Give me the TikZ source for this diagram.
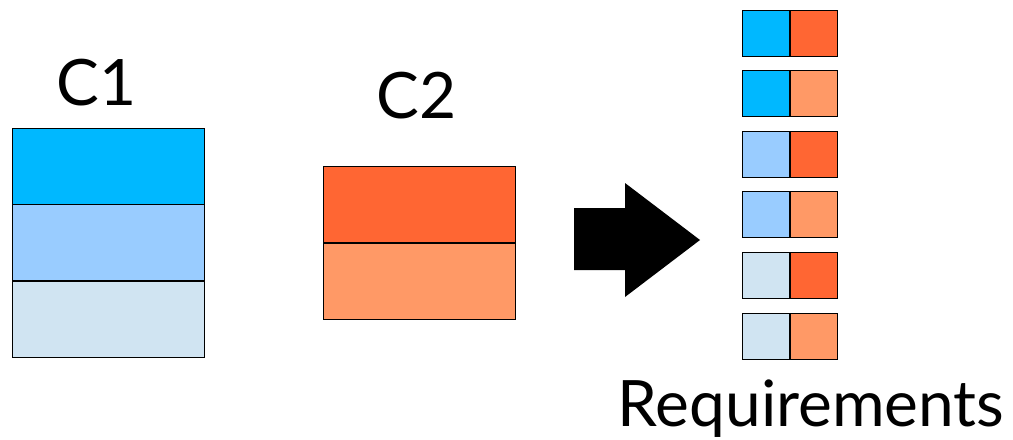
\documentclass[tikz,border=0pt]{standalone}
\usepackage{fontspec}
\setmainfont{Lato}
\usetikzlibrary{positioning}
\definecolor{blueA}{HTML}{00B8FF}
\definecolor{blueB}{HTML}{99CCFF}
\definecolor{blueC}{HTML}{D0E4F2}
\definecolor{orangeA}{HTML}{FF6633}
\definecolor{orangeB}{HTML}{FF9966}

\begin{document}
\begin{tikzpicture}[x=0.75pt,y=-0.75pt,
    bigcell/.style={draw=black,line width=0.6pt,inner sep=0pt,minimum width=144pt,minimum height=57pt},
    smallcell/.style={draw=black,line width=0.6pt,inner sep=0pt,minimum width=35.25pt,minimum height=34.5pt},
    biglabel/.style={font=\fontsize{48}{48}\selectfont,inner sep=0pt,anchor=base}]
        \useasboundingbox (0,0) rectangle (1013,439);
        %C1
            \node[bigcell,fill=blueA] (c1a) at (108,166) {};
            \node[bigcell,fill=blueB,below=0pt of c1a] (c1b) {};
            \node[bigcell,fill=blueC,below=0pt of c1b] (c1c) {};
            \node[biglabel] (c1) at (96.5,105) {C1};
        %C2
            \node[bigcell,fill=orangeA] (c2a) at (419,204.5) {};
            \node[bigcell,fill=orangeB,below=0pt of c2a] (c2b) {};
            \node[biglabel] (c2) at (416.5,118) {C2};
        %箭头
            \fill[black] (574,208) -- (625,208) -- (625,183) -- (700,240) -- (625,297) -- (625,270) -- (574,270) -- cycle;
        %Requirements
            \node[smallcell,fill=blueA] (r1a) at (766,33) {};
            \node[smallcell,fill=orangeA,right=0pt of r1a] (r1b) {};
            \node[smallcell,fill=blueA] (r2a) at (766,93.5) {};
            \node[smallcell,fill=orangeB,right=0pt of r2a] (r2b) {};
            \node[smallcell,fill=blueB] (r3a) at (766,154) {};
            \node[smallcell,fill=orangeA,right=0pt of r3a] (r3b) {};
            \node[smallcell,fill=blueB] (r4a) at (766,214.5) {};
            \node[smallcell,fill=orangeB,right=0pt of r4a] (r4b) {};
            \node[smallcell,fill=blueC] (r5a) at (766,275) {};
            \node[smallcell,fill=orangeA,right=0pt of r5a] (r5b) {};
            \node[smallcell,fill=blueC] (r6a) at (766,336) {};
            \node[smallcell,fill=orangeB,right=0pt of r6a] (r6b) {};
            \node[biglabel] (req) at (811,426) {Requirements};
\end{tikzpicture}
\end{document}
